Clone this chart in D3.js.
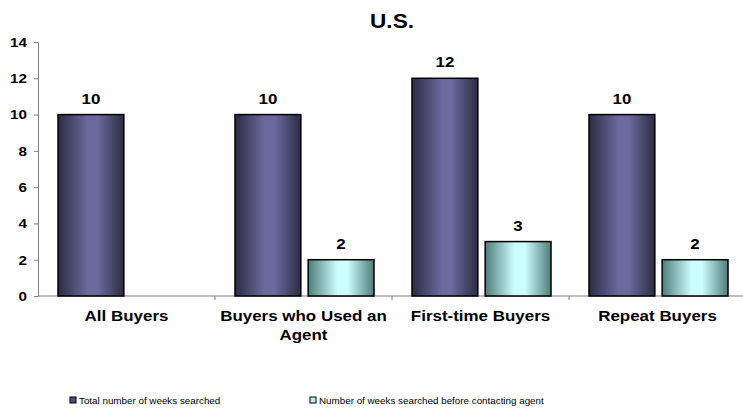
<!DOCTYPE html>
<html>
<head>
<meta charset="utf-8">
<script src="https://cdn.jsdelivr.net/npm/d3@7"></script>
<style>
  html, body { margin: 0; padding: 0; background: #fff; }
  svg { display: block; font-family: "Liberation Sans", Arial, sans-serif; }
</style>
</head>
<body>
<svg id="chart" width="743" height="410"></svg>
<script>
// Median weeks searched, by buyer group
const categories = ["All Buyers", "Buyers who Used an Agent", "First-time Buyers", "Repeat Buyers"];
const seriesNames = ["Total number of weeks searched", "Number of weeks searched before contacting agent"];
const totalWeeks = [10, 10, 12, 10];
const weeksBeforeAgent = [null, 2, 3, 2];
const yTicks = [0, 2, 4, 6, 8, 10, 12, 14];

const svg = d3.select("#chart");
const defs = svg.append("defs");
const STRETCH = 1.13; // text is drawn slightly wide

function cylinderGradient(id, edge, mid) {
  const g = defs.append("linearGradient").attr("id", id)
    .attr("x1", "0%").attr("x2", "100%").attr("y1", "0%").attr("y2", "0%");
  g.append("stop").attr("offset", "0%").attr("stop-color", edge);
  g.append("stop").attr("offset", "45%").attr("stop-color", mid);
  g.append("stop").attr("offset", "60%").attr("stop-color", mid);
  g.append("stop").attr("offset", "100%").attr("stop-color", edge);
}
cylinderGradient("gradTotal", "#2c2c44", "#6a6a9e");
cylinderGradient("gradBefore", "#4f7d7b", "#ccffff");
const fills = ["url(#gradTotal)", "url(#gradBefore)"];
const swatch = ["#4e4e80", "#bfeeee"];

const plotLeft = 38, plotRight = 746, plotTop = 42, plotBottom = 296;

const x0 = d3.scaleBand().domain(categories).range([plotLeft, plotRight]).paddingInner(0).paddingOuter(0);
const x1 = d3.scaleBand().domain([0, 1]).range([20, 159]).paddingInner(0.1).paddingOuter(0);
const y = d3.scaleLinear().domain([0, 14]).range([plotBottom, plotTop]);

// Draw a text item at (x, y) with the horizontal stretch applied
function label(parent, x, yy, txt, size, anchor, weight) {
  return parent.append("text")
    .attr("transform", `translate(${x},${yy}) scale(${STRETCH},1)`)
    .attr("text-anchor", anchor).attr("font-size", size)
    .attr("font-weight", weight).text(txt);
}

// Title
label(svg, (plotLeft + plotRight) / 2, 28, "U.S.", 20, "middle", "bold");

// Y axis
const yAxis = svg.append("g").attr("transform", `translate(${plotLeft},0)`)
  .call(d3.axisLeft(y).tickValues(yTicks).tickSize(4).tickSizeOuter(0).tickPadding(5.7));
yAxis.select(".domain").attr("stroke", "#808080");
yAxis.selectAll(".tick line").attr("stroke", "#808080");
yAxis.selectAll(".tick text").attr("font-size", 13.5).attr("font-weight", "bold")
  .attr("fill", "#000").attr("font-family", "Liberation Sans, Arial, sans-serif")
  .attr("transform", `scale(${STRETCH},1)`);

// X axis with ticks at group boundaries
const xg = svg.append("g");
xg.append("line").attr("x1", plotLeft).attr("x2", plotRight).attr("y1", plotBottom).attr("y2", plotBottom)
  .attr("stroke", "#808080");
xg.selectAll("line.tk").data(categories.slice(1)).join("line").attr("class", "tk")
  .attr("x1", d => x0(d)).attr("x2", d => x0(d))
  .attr("y1", plotBottom).attr("y2", plotBottom + 4).attr("stroke", "#808080");

// Category labels (wrapped)
const labelLines = [["All Buyers"], ["Buyers who Used an", "Agent"], ["First-time Buyers"], ["Repeat Buyers"]];
categories.forEach((c, i) => {
  const cx = x0(c) + x0.bandwidth() / 2;
  labelLines[i].forEach((ln, j) => {
    label(svg, cx, 321 + j * 19, ln, 15, "middle", "bold");
  });
});

// Bars
const series = [totalWeeks, weeksBeforeAgent];
series.forEach((vals, s) => {
  const g = svg.append("g");
  const data = categories.map((c, i) => ({ c, v: vals[i] })).filter(d => d.v != null);
  g.selectAll("rect").data(data).join("rect")
    .attr("x", d => x0(d.c) + x1(s))
    .attr("y", d => y(d.v))
    .attr("width", x1.bandwidth())
    .attr("height", d => y(0) - y(d.v))
    .attr("fill", fills[s])
    .attr("stroke", "#000").attr("stroke-width", 1.5);
  data.forEach(d => {
    label(g, x0(d.c) + x1(s) + x1.bandwidth() / 2, y(d.v) - 11, d.v, 15, "middle", "bold");
  });
});

// Legend
const legendX = [70, 310];
const legendY = 404;
seriesNames.forEach((n, i) => {
  svg.append("rect").attr("x", legendX[i]).attr("y", legendY - 7).attr("width", 6).attr("height", 6)
    .attr("fill", swatch[i]).attr("stroke", "#000").attr("stroke-width", 1);
  label(svg, legendX[i] + 9, legendY, n, 8.7, "start", "normal");
});
</script>
</body>
</html>
